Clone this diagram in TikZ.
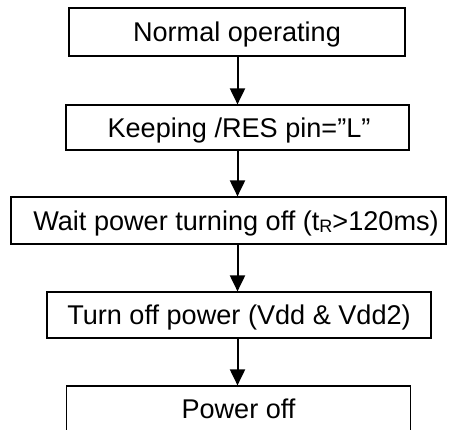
\documentclass[tikz,border=0pt]{standalone}
\usepackage{fontspec}
\setmainfont{Liberation Sans}
\usetikzlibrary{arrows.meta}

\tikzset{
    stagebox/.style={draw, line width=1.2pt, inner sep=0pt,
        text height=19.5pt, text depth=0pt,
        font=\fontsize{27.1}{31}\selectfont},
    flowarrow/.style={line width=2pt,
        -{Triangle[width=15pt,length=16pt]}}
}

\begin{document}
\begin{tikzpicture}[x=1pt,y=-1pt]
            \useasboundingbox (0,0) rectangle (457,430);

            \node[stagebox, minimum width=336pt, minimum height=48pt]
                (norm) at (237,32) {Normal operating};
            \node[stagebox, minimum width=343pt, minimum height=45pt]
                (keep) at (237.5,127.5) {\hspace{3pt}Keeping /RES pin=”L”};
            \node[stagebox, minimum width=435pt, minimum height=47pt]
                (wait) at (228.5,220.5)
                {\hspace{15pt}Wait power turning off (t{\fontsize{18}{18}\selectfont\raisebox{-2.5pt}{R}}>120ms)};
            \node[stagebox, minimum width=384pt, minimum height=46pt]
                (vdd) at (239,315) {Turn off power (Vdd \& Vdd2)};
            \node[stagebox, minimum width=344pt, minimum height=46pt]
                (poff) at (238.5,409) {Power off};

            \draw[flowarrow] (norm.south -| 237.5,0) -- (keep.north -| 237.5,0);
            \draw[flowarrow] (keep.south -| 237.5,0) -- (wait.north -| 237.5,0);
            \draw[flowarrow] (wait.south -| 237.5,0) -- (vdd.north -| 237.5,0);
            \draw[flowarrow] (vdd.south -| 237.5,0) -- (poff.north -| 237.5,0);
        \end{tikzpicture}
\end{document}
